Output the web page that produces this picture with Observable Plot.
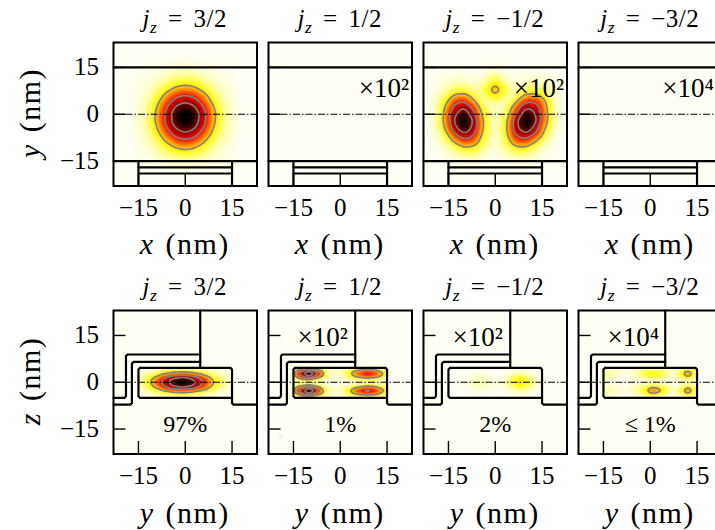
<!DOCTYPE html>
<html><head><meta charset="utf-8">
<script src="https://cdn.jsdelivr.net/npm/d3@7"></script>
<script src="https://cdn.jsdelivr.net/npm/@observablehq/plot@0.6"></script>
<style>
html,body{margin:0;padding:0;background:#fff;overflow:hidden}
#c{position:relative;width:715px;height:530px;overflow:hidden;font-family:"Liberation Serif",serif;color:#000}
#c svg{position:absolute;overflow:visible;background:transparent}
.t{position:absolute;transform:translate(-50%,-50%);white-space:nowrap}
.t sub{font-size:70%;line-height:0}
</style></head><body><div id="c"></div>
<script>
// Density samples (rows run from high to low y)
const p1x=[-15,-12,-9,-6,-3,0,3,6,9,12,15];
const p1y=[15,12,9,6,3,0,-3,-6,-9,-12,-15];
const p1v=[
[.00,.01,.02,.03,.05,.05,.05,.03,.02,.01,.00],
[.01,.02,.05,.09,.13,.14,.13,.09,.05,.02,.01],
[.02,.05,.11,.20,.28,.32,.28,.20,.11,.05,.02],
[.03,.09,.20,.36,.51,.57,.51,.36,.20,.09,.03],
[.04,.13,.29,.52,.74,.83,.74,.52,.29,.13,.04],
[.05,.15,.35,.62,.88,.99,.88,.62,.35,.15,.05],
[.05,.15,.33,.60,.85,.96,.85,.60,.33,.15,.05],
[.04,.12,.26,.47,.67,.75,.67,.47,.26,.12,.04],
[.03,.07,.17,.30,.43,.48,.43,.30,.17,.07,.03],
[.01,.04,.09,.16,.22,.25,.22,.16,.09,.04,.01],
[.01,.02,.04,.07,.09,.10,.09,.07,.04,.02,.01]];
const p3x=[-19,-16,-13,-10,-7,-4,0,4,7,10,13,16,19];
const p3y=[14,11,8,5,2,-2,-5,-8,-11,-14];
const p3v=[
[0,0,.01,.01,0,.01,.04,.01,0,.01,.01,.01,0],
[.01,.04,.06,.05,.03,.06,.23,.05,.02,.05,.06,.05,.02],
[.03,.10,.18,.18,.10,.19,.385,.18,.07,.16,.19,.13,.05],
[.06,.22,.41,.45,.28,.10,.23,.09,.23,.43,.44,.27,.08],
[.08,.32,.65,.78,.53,.21,.04,.18,.50,.77,.68,.35,.09],
[.10,.37,.80,1,.75,.30,.04,.30,.75,1,.80,.37,.10],
[.07,.30,.67,.88,.67,.28,.04,.31,.71,.88,.63,.27,.06],
[.03,.16,.39,.56,.47,.21,.03,.25,.50,.55,.36,.13,.02],
[.01,.06,.16,.25,.23,.12,.02,.14,.24,.24,.14,.04,.01],
[0,.02,.05,.08,.08,.04,.01,.05,.08,.08,.05,.01,0]];
const p5x=[-15,-13,-10,-7,-4,-1,2,5,8,11,14];
const p5z=[4.5,3,1.5,0,-1.5,-3,-4.5];
const p5v=[
[.01,.02,.04,.07,.09,.10,.09,.07,.04,.02,.01],
[.04,.07,.14,.24,.32,.36,.32,.24,.14,.07,.03],
[.08,.15,.31,.52,.71,.80,.71,.52,.31,.15,.06],
[.10,.19,.39,.63,.88,1,.88,.63,.39,.19,.08],
[.08,.15,.31,.52,.71,.80,.71,.52,.31,.15,.06],
[.04,.07,.14,.24,.32,.36,.32,.24,.14,.07,.03],
[.01,.02,.04,.07,.09,.10,.09,.07,.04,.02,.01]];
const p6x=[-15,-13,-10,-7,-4,-1,2,5,8.5,11,13,15];
const p6z=[4.5,3.5,2.7,1.7,.8,0,-.8,-1.7,-2.7,-3.5,-4.5];
const p6v=[
[.08,.19,.30,.17,.04,.02,.06,.13,.18,.16,.11,.06],
[.22,.51,.79,.44,.09,.05,.16,.35,.49,.42,.30,.17],
[.28,.65,1,.57,.12,.06,.20,.44,.62,.53,.38,.22],
[.19,.45,.69,.39,.08,.04,.14,.30,.42,.36,.26,.15],
[.07,.17,.26,.14,.03,.02,.05,.11,.16,.14,.10,.06],
[.02,.05,.07,.04,.01,.01,.02,.03,.05,.04,.03,.02],
[.07,.17,.26,.14,.03,.02,.05,.12,.17,.15,.10,.06],
[.19,.45,.69,.39,.08,.04,.14,.32,.45,.39,.27,.16],
[.28,.65,1,.57,.12,.06,.21,.47,.66,.57,.40,.23],
[.22,.51,.79,.44,.09,.05,.16,.37,.52,.45,.31,.18],
[.08,.19,.30,.17,.04,.02,.06,.14,.19,.17,.12,.07]];
const p7x=[-10,-8,-5.5,-3,0,3,5,8,11,14];
const p7z=[4.5,3,1.5,0,-1.5,-3,-4.5];
const p7v=[
[0,0,.01,0,0,0,.01,.01,.01,0],
[0,.01,.03,.01,0,.01,.04,.08,.04,.01],
[.01,.03,.08,.04,.01,.04,.13,.24,.13,.02],
[.01,.05,.12,.06,.02,.07,.20,.32,.20,.03],
[.01,.03,.08,.04,.01,.04,.13,.24,.13,.02],
[0,.01,.03,.01,0,.01,.04,.08,.04,.01],
[0,0,.01,0,0,0,.01,.01,.01,0]];
const p8x=[-15,-13,-10,-7,-4,-1,1,4,7,9.5,12,14.5];
const p8z=[4.5,3.5,2.7,1.7,.8,0,-.8,-1.7,-2.7,-3.5,-4.5];
const p8v=[
[.03,.04,.02,.01,.04,.08,.09,.06,.02,.06,.13,.06],
[.09,.12,.04,.03,.11,.22,.23,.18,.04,.18,.34,.18],
[.10,.14,.05,.03,.12,.24,.26,.20,.05,.20,.42,.20],
[.08,.11,.04,.02,.10,.19,.21,.16,.04,.16,.31,.16],
[.03,.04,.01,.01,.03,.07,.08,.05,.01,.05,.11,.05],
[.01,.01,0,0,.01,.02,.03,.02,0,.02,.03,.02],
[.02,.03,.01,.01,.04,.09,.11,.08,.02,.05,.11,.05],
[.07,.10,.03,.03,.12,.26,.34,.24,.05,.15,.33,.17],
[.08,.12,.04,.03,.14,.30,.42,.28,.06,.18,.42,.20],
[.07,.10,.03,.03,.12,.26,.34,.24,.05,.15,.33,.17],
[.02,.04,.01,.01,.04,.10,.12,.09,.02,.05,.12,.06]];

// Device outlines in nm
const xyLines=[
 [[-23,15],[23,15]],
 [[-23,-15],[23,-15]],
 [[-15,-17],[15,-17]],
 [[-15,-19],[15,-19]],
 [[-15,-15],[-15,-23]],
 [[15,-15],[15,-23]]];
const yzLines=[
 [[-23,-7.2],[-17.6,-7.2],[-17.1,-6.7],[-17.1,6],[-16.6,6.5],[4.8,6.5]],
 [[-23,-5],[-19.5,-5],[-19,-4.5],[-19,8.4],[-18.5,8.9],[4.8,8.9]],
 [[4.8,23],[4.8,4.6]],
 [[-14.5,4.6],[14.5,4.6],[15,4.1],[15,-6.7],[15.5,-7.2],[23,-7.2]],
 [[-14.5,4.6],[-15,4.1],[-15,-4.5],[-14.5,-5],[15,-5]]];

const ticks=[-15,0,15];
const jz=["3/2","1/2","−1/2","−3/2"];
const topNotes=[null,"×10²","×10²","×10⁴"];
const botNotes=[null,"×10²","×10²","×10⁴"];
const shares=["97%","1%","2%","≤ 1%"];
const levels=[.3,.56,.75];
const colorStops=[0,.1,.26,.33,.55,.75,.92];
const colorRange=["#fffff5","#ffffb0","#ffff00","#ffbf00","#ff0000","#900000","#000000"];

const panelLeft=[113,268,423,578];
const rowTop=[41.5,309.5];
const size=143.5, mL=60, mR=6, mT=10, mB=56;
const root=document.getElementById("c");

function table(xs,ys,rows,padX,padY){
  const out=[];
  ys.forEach((y,j)=>xs.forEach((x,i)=>out.push({x,y,v:rows[j][i]})));
  const x0=xs[0]-padX,x1=xs[xs.length-1]+padX,y0=ys[ys.length-1]-padY,y1=ys[0]+padY;
  for(const x of [x0,...xs,x1]){out.push({x,y:y0,v:0});out.push({x,y:y1,v:0});}
  for(const y of ys){out.push({x:x0,y,v:0});out.push({x:x1,y,v:0});}
  for(const a of [-23,23])for(const b of [-23,23])out.push({x:a,y:b,v:0});
  return out;
}
const densities=[
 [table(p1x,p1y,p1v,3,3),null,table(p3x,p3y,p3v,3,3),null],
 [table(p5x,p5z,p5v,.4,.6),table(p6x,p6z,p6v,.4,.3),table(p7x,p7z,p7v,2,.6),table(p8x,p8z,p8v,.4,.3)]
];
const blurs=[2,1];

function panel(row,col){
  const pts=densities[row][col];
  const blur=blurs[row];
  const lines=row===0?xyLines:yzLines;
  const marks=[Plot.frame({fill:"#fffff5",stroke:"none"})];
  if(pts){
    marks.push(Plot.raster(pts,{x:"x",y:"y",fill:"v",interpolate:"barycentric",blur}));
    marks.push(Plot.contour(pts,{x:"x",y:"y",value:"v",interpolate:"barycentric",thresholds:levels,stroke:"#808080",strokeWidth:1.6,fill:"none",blur,pixelSize:1}));
  }
  marks.push(Plot.ruleY([0],{stroke:"#000",strokeWidth:1,strokeDasharray:"7,2,1.5,2"}));
  for(const l of lines){
    marks.push(Plot.line(l,{x:d=>d[0],y:d=>d[1],stroke:"#000",strokeWidth:2.2,strokeLinejoin:"round"}));
  }
  const note=(row===0?topNotes:botNotes)[col];
  if(note){
    if(row===0) marks.push(Plot.text([note],{frameAnchor:"top-right",lineAnchor:"middle",dx:col===3?-8:-3,dy:46,fontSize:27,fill:"#000"}));
    else marks.push(Plot.text([note],{frameAnchor:"top-left",lineAnchor:"middle",dx:29,dy:27,fontSize:27,fill:"#000"}));
  }
  if(row===1) marks.push(Plot.text([shares[col]],{frameAnchor:"bottom",lineAnchor:"middle",dy:-30,fontSize:24,fill:"#000"}));
  marks.push(Plot.axisX(ticks,{anchor:"bottom",tickSize:-12.5,tickPadding:25,fontSize:25,fill:"#000",strokeWidth:1.4,label:null}));
  marks.push(Plot.axisY(ticks,{anchor:"left",tickSize:-12.5,tickPadding:27,fontSize:25,fill:"#000",strokeWidth:1.4,label:null,text:col===0?undefined:()=>""}));
  marks.push(Plot.frame({stroke:"#000",strokeWidth:2,fill:"none"}));
  const svg=Plot.plot({
    width:mL+size+mR,height:mT+size+mB,
    marginLeft:mL,marginRight:mR,marginTop:mT,marginBottom:mB,
    x:{domain:[-23,23]},y:{domain:[-23,23]},
    color:{type:"linear",domain:colorStops,range:colorRange,clamp:true},
    style:{fontFamily:"Liberation Serif",background:"transparent"},
    marks
  });
  svg.style.left=(panelLeft[col]-mL)+"px";
  svg.style.top=(rowTop[row]-mT)+"px";
  root.appendChild(svg);
}
function label(html,x,y,size,rot,extra){
  const d=document.createElement("div");
  d.className="t";d.innerHTML=html;
  d.style.left=x+"px";d.style.top=y+"px";d.style.fontSize=size+"px";
  if(extra)Object.assign(d.style,extra);
  if(rot)d.style.transform="translate(-50%,-50%) rotate(-90deg)";
  root.appendChild(d);
}
const titleStyle={letterSpacing:"0.5px",wordSpacing:"4px"};
const axisStyle={letterSpacing:"1.5px",wordSpacing:"2px"};
for(let r=0;r<2;r++)for(let c=0;c<4;c++)panel(r,c);
panelLeft.forEach((l,c)=>{
  const cx=l+size/2;
  label(`<i>j<sub>z</sub></i> = ${jz[c]}`,cx,19,25,false,titleStyle);
  label(`<i>j<sub>z</sub></i> = ${jz[c]}`,cx,287,25,false,titleStyle);
  label("<i>x</i> (nm)",cx,244,30,false,axisStyle);
  label("<i>y</i> (nm)",cx,513,30,false,axisStyle);
});
label("<i>y</i> (nm)",30,113,30,true,axisStyle);
label("<i>z</i> (nm)",30,381,30,true,axisStyle);
</script></body></html>
